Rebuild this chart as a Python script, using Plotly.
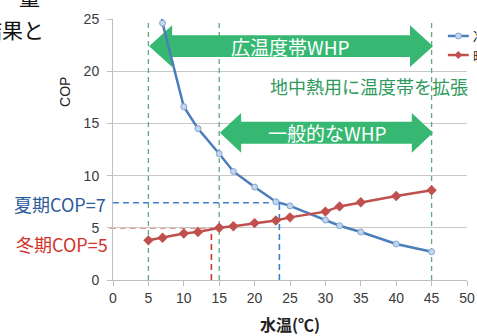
import plotly.graph_objects as go

# ---- data ----
water_temp = [5, 7, 10, 12, 15, 17, 20, 23, 25, 30, 32, 35, 40, 45]
cop_cooling = [36.0, 24.6, 16.6, 14.5, 12.1, 10.4, 8.9, 7.5, 7.1, 5.75, 5.2, 4.6, 3.45, 2.7]
cop_heating = [3.8, 4.05, 4.45, 4.6, 5.0, 5.15, 5.45, 5.7, 6.0, 6.55, 7.05, 7.45, 8.05, 8.6]
series_names = ["冷房", "暖房"]

x_ticks = [0, 5, 10, 15, 20, 25, 30, 35, 40, 45, 50]
y_ticks = [0, 5, 10, 15, 20, 25]

range_bounds = [5, 15, 45]            # green dashed temperature bounds
wide_range = [5, 45]                  # 広温度帯WHP
general_range = [15, 45]              # 一般的なWHP
wide_level = 22.4
general_level = 14.1

summer_cop_level = 7.4
summer_temp = 23.5
winter_cop_level = 5.0
winter_temp = 13.9

CJK = "Noto Sans CJK JP"
GREEN = "#37b872"
BLUE = "#4a7ebb"
RED = "#c0504d"

fig = go.Figure()

fig.add_trace(go.Scatter(
    x=water_temp, y=cop_cooling, name=series_names[0], mode="lines+markers",
    line=dict(color=BLUE, width=2.5),
    marker=dict(symbol="circle", size=6, color="#c5d6ec",
                line=dict(color="#7fa6d6", width=1)),
))
fig.add_trace(go.Scatter(
    x=water_temp, y=cop_heating, name=series_names[1], mode="lines+markers",
    line=dict(color=RED, width=2.5),
    marker=dict(symbol="diamond", size=8, color=RED),
))

shapes = []
# green dashed bounds
for b in range_bounds:
    shapes.append(dict(type="line", xref="x", yref="y", x0=b, x1=b, y0=0, y1=25,
                       line=dict(color="#5fa882", width=1.3, dash="5px,4px"),
                       layer="between"))
# summer (blue) and winter (red) guide lines
shapes += [
    dict(type="line", xref="x", yref="y", x0=0, x1=summer_temp,
         y0=summer_cop_level, y1=summer_cop_level,
         line=dict(color="#3d7fd9", width=1.6, dash="6px,4px"), layer="between"),
    dict(type="line", xref="x", yref="y", x0=summer_temp, x1=summer_temp,
         y0=0, y1=summer_cop_level,
         line=dict(color="#3d7fd9", width=1.6, dash="6px,4px"), layer="between"),
    dict(type="line", xref="paper", yref="y", x0=-0.009, x1=winter_temp / 50,
         y0=winter_cop_level, y1=winter_cop_level,
         line=dict(color="#d2342c", width=1.6, dash="6px,4px"), layer="between"),
    dict(type="line", xref="x", yref="y", x0=winter_temp, x1=winter_temp,
         y0=0, y1=winter_cop_level,
         line=dict(color="#d2342c", width=1.6, dash="6px,4px"), layer="between"),
]


def arrow_path(x0, x1, yc, head_len=3.25, head_half=2.0, body_half=1.05):
    pts = [
        (x0, yc),
        (x0 + head_len, yc + head_half),
        (x0 + head_len, yc + body_half),
        (x1 - head_len, yc + body_half),
        (x1 - head_len, yc + head_half),
        (x1, yc),
        (x1 - head_len, yc - head_half),
        (x1 - head_len, yc - body_half),
        (x0 + head_len, yc - body_half),
        (x0 + head_len, yc - head_half),
    ]
    return "M " + " L ".join(f"{px},{py}" for px, py in pts) + " Z"


shapes.append(dict(type="path", xref="x", yref="y",
                   path=arrow_path(wide_range[0] + 0.1, wide_range[1] + 0.2, wide_level),
                   fillcolor=GREEN, line=dict(width=0), layer="between"))
shapes.append(dict(type="path", xref="x", yref="y",
                   path=arrow_path(general_range[0] + 0.1, general_range[1] + 0.2, general_level,
                                   head_len=3.0, head_half=1.9, body_half=1.05),
                   fillcolor=GREEN, line=dict(width=0), layer="between"))

# ---- hand-drawn legend (clipped at the right edge like the reference) ----
leg_x0, leg_x1, leg_xm = 0.946, 1.005, 0.9755
leg_rows = [0.935, 0.862]
leg_dx, leg_dy = 0.0085, 0.0115
shapes += [
    dict(type="line", xref="paper", yref="paper", x0=leg_x0, x1=leg_x1,
         y0=leg_rows[0], y1=leg_rows[0], line=dict(color=BLUE, width=2.5)),
    dict(type="circle", xref="paper", yref="paper",
         x0=leg_xm - leg_dx, x1=leg_xm + leg_dx,
         y0=leg_rows[0] - leg_dy, y1=leg_rows[0] + leg_dy,
         fillcolor="#c5d6ec", line=dict(color="#7fa6d6", width=1)),
    dict(type="line", xref="paper", yref="paper", x0=leg_x0, x1=leg_x1,
         y0=leg_rows[1], y1=leg_rows[1], line=dict(color=RED, width=2.5)),
    dict(type="path", xref="paper", yref="paper",
         path=(f"M {leg_xm - 1.3 * leg_dx},{leg_rows[1]} L {leg_xm},{leg_rows[1] + 1.3 * leg_dy} "
               f"L {leg_xm + 1.3 * leg_dx},{leg_rows[1]} L {leg_xm},{leg_rows[1] - 1.3 * leg_dy} Z"),
         fillcolor=RED, line=dict(width=0)),
]

annotations = [
    dict(text="広温度帯WHP", x=sum(wide_range) / 2, y=wide_level, xref="x", yref="y",
         showarrow=False, font=dict(family=CJK, size=19, color="white")),
    dict(text="一般的なWHP", x=sum(general_range) / 2 + 0.3, y=general_level, xref="x", yref="y",
         showarrow=False, font=dict(family=CJK, size=19, color="white")),
    dict(text="地中熱用に温度帯を拡張", x=21.9, y=18.6, xref="x", yref="y",
         xanchor="left", showarrow=False,
         font=dict(family=CJK, size=18, color="#2f9a5c")),
    dict(text="夏期COP=7", x=-0.013, y=7.3, xref="paper", yref="y", xanchor="right",
         showarrow=False, font=dict(family=CJK, size=18, color="#2f5b9a")),
    dict(text="冬期COP=5", x=-0.009, y=3.45, xref="paper", yref="y", xanchor="right",
         showarrow=False, font=dict(family=CJK, size=18, color="#d2342c")),
    dict(text="COP", x=-0.136, y=0.72, xref="paper", yref="paper", textangle=-90,
         xanchor="center", yanchor="middle",
         showarrow=False, font=dict(family="Liberation Sans", size=14, color="#222222")),
    dict(text="<b>水温(℃)</b>", x=0.5, y=-0.17, xref="paper", yref="paper",
         xanchor="center", yanchor="middle", showarrow=False,
         font=dict(family=CJK, size=16, color="#222222")),
    dict(text="結果と", x=-0.19, y=0.96, xref="paper", yref="paper", xanchor="right",
         yanchor="middle", showarrow=False,
         font=dict(family=CJK, size=21, color="#111111")),
    dict(text="量", x=-0.2, y=1.09, xref="paper", yref="paper", xanchor="right",
         yanchor="middle", showarrow=False,
         font=dict(family=CJK, size=21, color="#111111")),
    dict(text=series_names[0], x=1.01, y=leg_rows[0], xref="paper", yref="paper",
         xanchor="left", yanchor="middle", showarrow=False,
         font=dict(family=CJK, size=13, color="#222222")),
    dict(text=series_names[1], x=1.01, y=leg_rows[1], xref="paper", yref="paper",
         xanchor="left", yanchor="middle", showarrow=False,
         font=dict(family=CJK, size=13, color="#222222")),
]

tick_font = dict(family="Liberation Sans", size=14, color="#3a3a3a")

fig.update_layout(
    width=477, height=336,
    margin=dict(l=113, r=10, t=19, b=56, autoexpand=False),
    paper_bgcolor="white", plot_bgcolor="white",
    shapes=shapes, annotations=annotations,
    showlegend=False,
    xaxis=dict(range=[0, 50], tickvals=x_ticks, showgrid=False, zeroline=False,
               showline=True, linecolor="#bfbfbf", linewidth=1,
               ticks="outside", ticklen=5, tickcolor="#bfbfbf",
               tickfont=tick_font, fixedrange=True),
    yaxis=dict(range=[0, 25], tickvals=y_ticks, showgrid=True, gridcolor="#c8c8c8",
               gridwidth=1, zeroline=False, showline=True, linecolor="#bfbfbf",
               ticks="outside", ticklen=5, tickcolor="#bfbfbf", ticklabelstandoff=5,
               tickfont=tick_font, fixedrange=True),
)

fig.write_html(
    "out.html",
    config={"displayModeBar": False},
    post_script="document.body.style.margin='0';document.body.style.overflow='hidden';",
)
